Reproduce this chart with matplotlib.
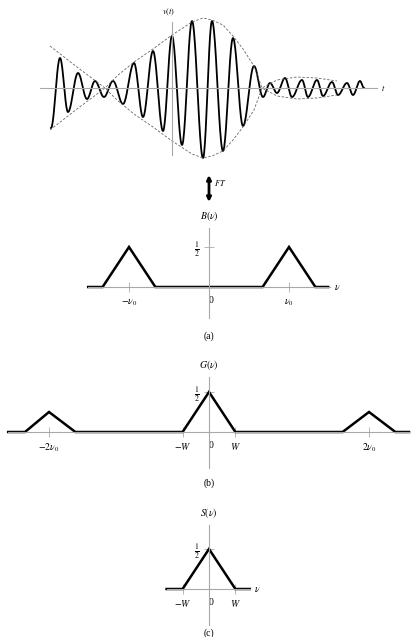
import numpy as np
import matplotlib
matplotlib.use('Agg')
import matplotlib.pyplot as plt

plt.rcParams['font.family'] = ['Liberation Serif', 'DejaVu Serif']
plt.rcParams['mathtext.fontset'] = 'stix'

W_PX, H_PX = 411, 637

# top panel: extrema of v(t) (t, v in pixel-like units)
t_ext = [-121, -112, -104, -94, -85, -77, -68, -59, -49, -38, -29, -19, -9, 0, 10, 20, 31,
         40, 51, 61, 71, 82, 91, 98, 105, 113, 120, 130, 136, 145, 151, 160, 166, 175, 181, 188, 192]
v_ext = [-40, 30, -24, 15, -11, 7, -9, 7, -16, 25, -29, 37, -43, 52, -57, 67, -70,
         67, -63, 50, -38, 22, -9, 5, -5, 10, -9, 8, -9, 8, -8, 6, -7, 5, -7, 7, 0]

# envelope (dashed) knots
t_env = [-122, -95, -67, -55, -38, -19, 0, 20, 31, 40, 51, 61, 71, 82, 90, 105, 125, 145, 165]
a_env = [42, 21, 0, 12, 26, 39, 53, 66, 70, 68, 63, 52, 39, 22, 0, 8, 11, 10, 7]

# spectra (nu in units of nu0)
nu_a = [-1.51, -1.33, -1.0, -0.67, 0.67, 1.0, 1.33, 1.49]
B_a = [0, 0, 0.5, 0, 0, 0.5, 0, 0]
nu_b = [-2.51, -2.3, -2.0, -1.67, -0.33, 0.0, 0.33, 1.67, 2.0, 2.33, 2.5]
G_b = [0, 0, 0.25, 0, 0, 0.5, 0, 0, 0.25, 0, 0]
nu_c = [-0.53, -0.33, 0.0, 0.33, 0.51]
S_c = [0, 0, 0.5, 0, 0]

ticks_a = [-1, 0, 1]
labels_a = [r'$-\nu_0$', '0', r'$\nu_0$']
ticks_b = [-2, -0.33, 0, 0.33, 2]
labels_b = [r'$-2\nu_0$', r'$-W$', '0', r'$W$', r'$2\nu_0$']
ticks_c = [-0.33, 0, 0.33]
labels_c = [r'$-W$', '0', r'$W$']

AX_COL = '#a8a8a8'


def half_cos_curve(ts, vs, n=24):
    xs, ys = [], []
    for i in range(len(ts) - 1):
        s = np.linspace(0, 1, n)
        xs.append(ts[i] + (ts[i + 1] - ts[i]) * s)
        ys.append(vs[i] + (vs[i + 1] - vs[i]) * (1 - np.cos(np.pi * s)) / 2)
    return np.concatenate(xs), np.concatenate(ys)


def add_panel(fig, top, bot, base, xc, xs, ys):
    # pixel box -> axes with data limits
    ax = fig.add_axes([0, 1 - bot / H_PX, 1, (bot - top) / H_PX])
    ax.set_xlim(-xc / xs, (W_PX - xc) / xs)
    ax.set_ylim(-(bot - base) / ys, (base - top) / ys)
    ax.patch.set_alpha(0)
    for s in ['top', 'right']:
        ax.spines[s].set_visible(False)
    for s in ['left', 'bottom']:
        ax.spines[s].set_position(('data', 0))
        ax.spines[s].set_color(AX_COL)
        ax.spines[s].set_linewidth(0.8)
    return ax


fig = plt.figure(figsize=(W_PX / 100, H_PX / 100), dpi=100)

# ---- top: v(t)
ax0 = add_panel(fig, 0, 170, 88, 172, 1.0, 1.0)
ax0.spines['left'].set_bounds(-67, 66)
ax0.spines['bottom'].set_bounds(-132, 205)
ax0.set_xticks([])
ax0.set_yticks([])
tt, vv = half_cos_curve(t_ext, v_ext)
ax0.plot(tt, vv, color='black', lw=1.3, solid_joinstyle='round')
ax0.plot(t_env, a_env, color='#666666', lw=0.6, ls=(0, (3, 2)))
ax0.plot(t_env, -np.array(a_env), color='#666666', lw=0.6, ls=(0, (3, 2)))
ax0.text(-3, 70, r'$v(t)$', ha='center', va='bottom', fontsize=6)
ax0.text(211, 0, r'$t$', ha='center', va='center', fontsize=6)

# FT arrow
ax0.annotate('', xy=(37, -87), xytext=(37, -114), annotation_clip=False,
             arrowprops=dict(arrowstyle='<->', color='black', lw=2.0,
                             mutation_scale=6, shrinkA=0, shrinkB=0))
ax0.text(42, -95, r'$FT$', ha='left', va='center', fontsize=6, clip_on=False)


def spectrum(ax, nu, val, ticks, labels, vb, hb, title, cap, nu_label=None):
    ax.plot(nu, val, color='black', lw=1.8, solid_joinstyle='miter')
    ax.spines['left'].set_bounds(*vb)
    ax.spines['bottom'].set_bounds(*hb)
    ax.set_xticks(ticks)
    ax.set_xticklabels(labels, fontsize=7)
    ax.set_yticks([0.5])
    ax.set_yticklabels([r'$\frac{1}{2}$'], fontsize=8)
    ax.tick_params(axis='both', direction='inout', length=7, width=0.6,
                   color=AX_COL, pad=3)
    for lab in ax.get_xticklabels():
        if lab.get_text() == '0':
            lab.set_ha('left')
    ax.text(0, vb[1] + 0.06, title, ha='center', va='bottom', fontsize=7)
    ax.text(0, cap, r'(' + 'abc'[ax._idx] + ')', ha='center', va='center', fontsize=7)
    if nu_label is not None:
        ax.text(nu_label, 0, r'$\nu$', ha='center', va='center', fontsize=7)


# ---- (a)
ax1 = add_panel(fig, 200, 345, 287, 209, 80, 80)
ax1._idx = 0
spectrum(ax1, nu_a, B_a, ticks_a, labels_a, (-0.39, 0.74), (-1.51, 1.51),
         r'$B(\nu)$', -0.61, nu_label=1.6)

# ---- (b)
ax2 = add_panel(fig, 355, 495, 432, 209, 80, 80)
ax2._idx = 1
spectrum(ax2, nu_b, G_b, ticks_b, labels_b, (-0.45, 0.69), (-2.51, 2.5),
         r'$G(\nu)$', -0.64)

# ---- (c)
ax3 = add_panel(fig, 497, 637, 589, 209, 80, 80)
ax3._idx = 2
spectrum(ax3, nu_c, S_c, ticks_c, labels_c, (-0.45, 0.8), (-0.53, 0.51),
         r'$S(\nu)$', -0.55, nu_label=0.6)

fig.savefig('out.png', dpi=100)
